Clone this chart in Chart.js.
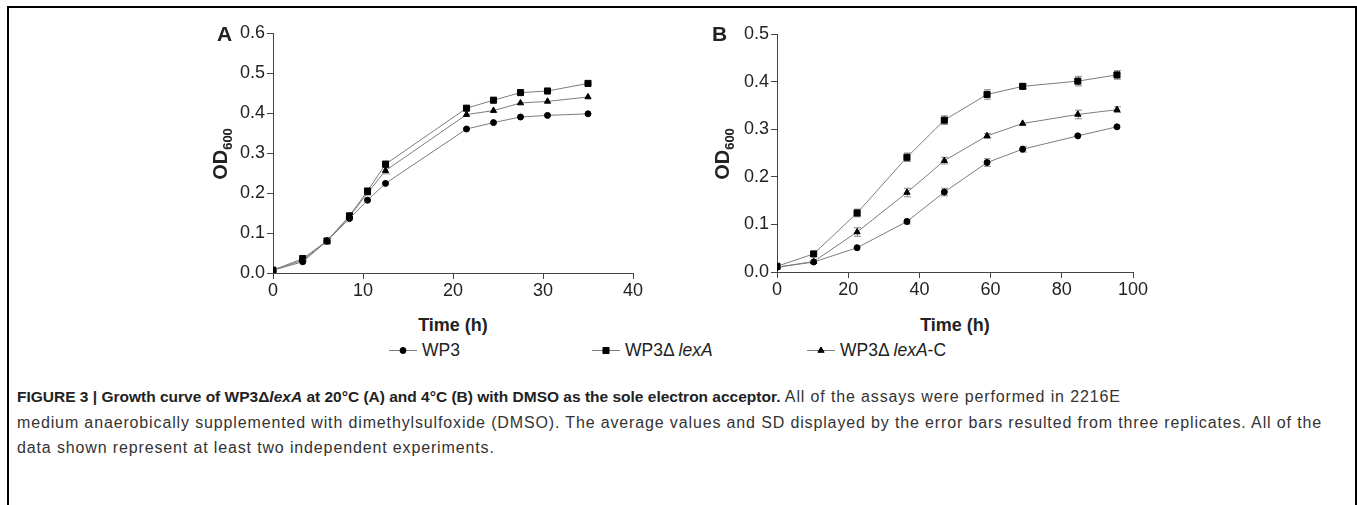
<!DOCTYPE html>
<html>
<head>
<meta charset="utf-8">
<script src="https://cdn.jsdelivr.net/npm/chart.js@4/dist/chart.umd.min.js"></script>
<style>
  body { margin: 0; background: #fff; font-family: "Liberation Sans", Arial, sans-serif; color: #222; }
  #page { position: relative; width: 1357px; height: 505px; overflow: hidden; }
  #frame { position: absolute; left: 7px; top: 6px; width: 1346px; height: 520px; border: 2px solid #000; border-bottom: none; }
  .cv { position: absolute; }
  .lbl { position: absolute; font-weight: bold; font-size: 21px; }
  .ytitle { position: absolute; font-weight: bold; font-size: 20px; transform: translate(-50%, -50%) rotate(-90deg); white-space: nowrap; }
  .ytitle sub { font-size: 13px; }
  .xtitle { position: absolute; font-weight: bold; font-size: 18px; transform: translateX(-50%); white-space: nowrap; }
  .leg { position: absolute; top: 340px; font-size: 17.5px; white-space: nowrap; color: #222; }
  .leg canvas { vertical-align: middle; margin-right: 5px; position: relative; top: -1px; }
  #caption { position: absolute; left: 17px; top: 384px; font-size: 16px; line-height: 25.5px; white-space: nowrap; color: #333; letter-spacing: 0.86px; }
  #caption b { font-size: 15.5px; letter-spacing: 0; color: #222; }
</style>
</head>
<body>
<div id="page">
  <div id="frame"></div>
  <canvas id="chartA" class="cv" style="left:200px; top:20px;" width="460" height="290"></canvas>
  <canvas id="chartB" class="cv" style="left:700px; top:20px;" width="470" height="290"></canvas>
  <div class="lbl" style="left:217px; top:22px;">A</div>
  <div class="lbl" style="left:712px; top:22px;">B</div>
  <div class="ytitle" style="left:222px; top:154px;">OD<sub>600</sub></div>
  <div class="ytitle" style="left:724px; top:154px;">OD<sub>600</sub></div>
  <div class="xtitle" style="left:453px; top:315px;">Time (h)</div>
  <div class="xtitle" style="left:955px; top:315px;">Time (h)</div>
  <div class="leg" style="left:389px;"><canvas id="leg0" width="28" height="12"></canvas>WP3</div>
  <div class="leg" style="left:592px;"><canvas id="leg1" width="28" height="12"></canvas>WP3Δ <i>lexA</i></div>
  <div class="leg" style="left:807px;"><canvas id="leg2" width="28" height="12"></canvas>WP3Δ <i>lexA</i>-C</div>
  <div id="caption"><b>FIGURE 3 | Growth curve of WP3Δ<i>lexA</i> at 20°C (A) and 4°C (B) with DMSO as the sole electron acceptor.</b> All of the assays were performed in 2216E<br>medium anaerobically supplemented with dimethylsulfoxide (DMSO). The average values and SD displayed by the error bars resulted from three replicates. All of the<br>data shown represent at least two independent experiments.</div>
</div>
<script>
const seriesNames = ['WP3', 'WP3ΔlexA', 'WP3ΔlexA-C'];
const markers = ['circle', 'rect', 'triangle'];
const markerSizes = [3, 4.3, 3.6];

// panel A, 20°C
const timeA = [0, 3.3, 6, 8.5, 10.5, 12.5, 21.5, 24.5, 27.5, 30.5, 35];
const wp3A = [0.007, 0.028, 0.080, 0.136, 0.182, 0.224, 0.360, 0.376, 0.390, 0.394, 0.398];
const lexA_A = [0.007, 0.036, 0.080, 0.143, 0.205, 0.272, 0.412, 0.432, 0.451, 0.455, 0.474];
const lexAC_A = [0.007, 0.032, 0.080, 0.141, 0.200, 0.256, 0.396, 0.406, 0.425, 0.429, 0.440];
const wp3A_sd = [0.002, 0.003, 0.002, 0.003, 0.003, 0.003, 0.003, 0.003, 0.003, 0.004, 0.003];
const lexA_A_sd = [0.002, 0.003, 0.002, 0.003, 0.004, 0.008, 0.004, 0.004, 0.003, 0.003, 0.003];
const lexAC_A_sd = [0.002, 0.003, 0.002, 0.003, 0.004, 0.008, 0.004, 0.003, 0.003, 0.003, 0.004];

// panel B, 4°C
const timeB = [0, 10.3, 22.5, 36.5, 47, 59, 69, 84.5, 95.5];
const wp3B = [0.010, 0.021, 0.051, 0.106, 0.168, 0.230, 0.258, 0.286, 0.305];
const lexA_B = [0.012, 0.038, 0.124, 0.241, 0.319, 0.373, 0.390, 0.401, 0.414];
const lexAC_B = [0.010, 0.022, 0.084, 0.167, 0.234, 0.286, 0.312, 0.331, 0.341];
const wp3B_sd = [0.003, 0.003, 0.003, 0.005, 0.008, 0.008, 0.006, 0.004, 0.002];
const lexA_B_sd = [0.003, 0.004, 0.008, 0.009, 0.009, 0.010, 0.005, 0.010, 0.009];
const lexAC_B_sd = [0.003, 0.003, 0.009, 0.009, 0.007, 0.005, 0.002, 0.009, 0.006];

const lineColor = '#7d7d7d';

function makeDataset(i, xs, ys, sd) {
    return {
        label: seriesNames[i],
        data: xs.map((x, k) => ({ x: x, y: ys[k] })),
        sd: sd,
        showLine: true,
        borderColor: lineColor,
        borderWidth: 1,
        pointStyle: markers[i],
        pointRadius: markerSizes[i],
        pointBackgroundColor: '#000',
        pointBorderColor: '#000',
        pointBorderWidth: 1
    };
}

// draws the SD bars through the chart's own scales
const errorBars = {
    id: 'errorBars',
    beforeDatasetsDraw(chart) {
        const ctx = chart.ctx;
        const xs = chart.scales.x, ys = chart.scales.y;
        ctx.save();
        ctx.strokeStyle = '#8a8a8a';
        ctx.lineWidth = 1;
        chart.data.datasets.forEach(ds => {
            ds.data.forEach((p, k) => {
                const e = ds.sd[k];
                const px = Math.round(xs.getPixelForValue(p.x)) + 0.5;
                const top = ys.getPixelForValue(p.y + e);
                const bot = ys.getPixelForValue(p.y - e);
                if (bot - top < 4) return;
                ctx.beginPath();
                ctx.moveTo(px, top); ctx.lineTo(px, bot);
                ctx.moveTo(px - 3.5, top); ctx.lineTo(px + 3.5, top);
                ctx.moveTo(px - 3.5, bot); ctx.lineTo(px + 3.5, bot);
                ctx.stroke();
            });
        });
        ctx.restore();
    }
};

function makeChart(id, datasets, xMax, xStep, yMax, yWidth, padTop, padRight, xHeight) {
    const axisColor = '#444';
    const tickFont = { family: '"Liberation Sans", Arial, sans-serif', size: 18 };
    return new Chart(document.getElementById(id), {
        type: 'scatter',
        data: { datasets: datasets },
        plugins: [errorBars],
        options: {
            responsive: false,
            animation: false,
            layout: { padding: { top: padTop, right: padRight, left: 0, bottom: 0 } },
            plugins: { legend: { display: false }, tooltip: { enabled: false } },
            scales: {
                x: {
                    type: 'linear', min: 0, max: xMax,
                    ticks: { stepSize: xStep, color: '#222', font: tickFont, padding: 1, maxRotation: 0 },
                    grid: { drawOnChartArea: false, drawTicks: true, tickLength: 6, color: axisColor },
                    border: { color: axisColor, width: 1 },
                    afterFit(s) { s.height = xHeight; }
                },
                y: {
                    type: 'linear', min: 0, max: yMax,
                    ticks: { stepSize: 0.1, color: '#222', font: tickFont, padding: 2,
                        callback: v => v.toFixed(1) },
                    grid: { drawOnChartArea: false, drawTicks: true, tickLength: 6, color: axisColor },
                    border: { color: axisColor, width: 1 },
                    afterFit(s) { s.width = yWidth; }
                }
            }
        }
    });
}

makeChart('chartA', [
    makeDataset(0, timeA, wp3A, wp3A_sd),
    makeDataset(1, timeA, lexA_A, lexA_A_sd),
    makeDataset(2, timeA, lexAC_A, lexAC_A_sd)
], 40, 10, 0.6, 73, 13, 27, 37);

makeChart('chartB', [
    makeDataset(0, timeB, wp3B, wp3B_sd),
    makeDataset(1, timeB, lexA_B, lexA_B_sd),
    makeDataset(2, timeB, lexAC_B, lexAC_B_sd)
], 100, 20, 0.5, 77, 14, 37, 38);

// legend swatches
markers.forEach((m, i) => {
    const c = document.getElementById('leg' + i);
    const ctx = c.getContext('2d');
    ctx.strokeStyle = lineColor;
    ctx.lineWidth = 1;
    ctx.beginPath(); ctx.moveTo(0, 6.5); ctx.lineTo(28, 6.5); ctx.stroke();
    ctx.fillStyle = '#000';
    ctx.strokeStyle = '#000';
    Chart.helpers.drawPoint(ctx, { pointStyle: m, radius: markerSizes[i], rotation: 0, borderWidth: 1 }, 14, 6.5);
});
</script>
</body>
</html>
